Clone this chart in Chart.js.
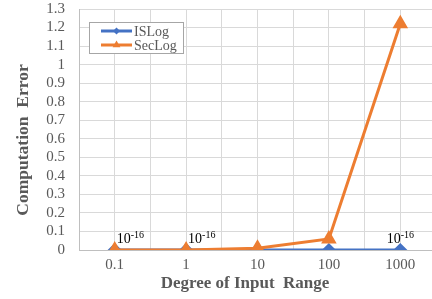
<!DOCTYPE html>
<html><head><meta charset="utf-8">
<script src="https://cdn.jsdelivr.net/npm/chart.js@4"></script>
<style>
html,body{margin:0;padding:0;background:#fff;overflow:hidden;width:432px;height:299px}
#wrap{position:relative;width:445px;height:313px;top:-14px}
</style></head>
<body><div id="wrap"><canvas id="c"></canvas></div>
<script>
const categories = ['0.1', '1', '10', '100', '1000'];
const isLog = [0, 0, 0, 0, 0];
const secLog = [0, 0, 0.01, 0.06, 1.22];
const yTicks = [0, 0.1, 0.2, 0.3, 0.4, 0.5, 0.6, 0.7, 0.8, 0.9, 1, 1.1, 1.2, 1.3];
const labelIdx = [0, 1, 4];
const labelText = ['10', '-16'];
const xTitle = 'Degree of Input  Range';
const yTitle = 'Computation  Error';

const serif = "'Liberation Serif','Times New Roman',serif";
const grey = '#595959';

const annot = {
  id: 'annot',
  afterDatasetsDraw(chart) {
    const ctx = chart.ctx;
    const meta = chart.getDatasetMeta(0);
    ctx.save();
    ctx.fillStyle = '#000';
    ctx.textBaseline = 'alphabetic';
    labelIdx.forEach(i => {
      const p = meta.data[i];
      ctx.font = '14px ' + serif;
      const w1 = ctx.measureText(labelText[0]).width;
      ctx.font = '10px ' + serif;
      const w2 = ctx.measureText(labelText[1]).width;
      let x = p.x + 2;
      if (i === categories.length - 1) x = p.x - (w1 + w2) / 2;
      const y = p.y - 7;
      ctx.font = '14px ' + serif;
      ctx.fillText(labelText[0], x, y);
      ctx.font = '10px ' + serif;
      ctx.fillText(labelText[1], x + w1, y - 5);
    });
    ctx.restore();
  }
};

const titles = {
  id: 'titles',
  afterDraw(chart) {
    const ctx = chart.ctx;
    ctx.save();
    ctx.fillStyle = grey;
    ctx.textAlign = 'center';
    ctx.textBaseline = 'middle';
    ctx.font = 'bold 17px ' + serif;
    ctx.fillText(xTitle, 245, 284 + 14);
    ctx.translate(23.5, 140 + 14);
    ctx.rotate(-Math.PI / 2);
    ctx.font = 'bold 17.5px ' + serif;
    ctx.fillText(yTitle, 0, 0);
    ctx.restore();
  }
};

new Chart(document.getElementById('c'), {
  type: 'line',
  data: {
    datasets: [
      { label: 'ISLog', data: isLog.map((v, i) => ({x: i, y: v})), order: 1,
        borderColor: '#4472C4', backgroundColor: '#4472C4', borderWidth: 3,
        pointStyle: 'rectRot', pointRadius: 5, pointHoverRadius: 5, tension: 0 },
      { label: 'SecLog', data: secLog.map((v, i) => ({x: i, y: v})), order: 0,
        borderColor: '#ED7D31', backgroundColor: '#ED7D31', borderWidth: 3,
        pointStyle: 'triangle', pointRadius: 6, pointHoverRadius: 6, tension: 0 }
    ]
  },
  options: {
    responsive: true, maintainAspectRatio: false, animation: false,
    layout: { padding: { top: 0, right: 8, left: 0, bottom: 0 } },
    plugins: {
      tooltip: { enabled: false },
      legend: { display: false }
    },
    scales: {
      x: {
        type: 'linear', min: -0.5, max: 4.5,
        afterBuildTicks(s) { s.ticks = []; for (let v = -0.5; v <= 4.5001; v += 0.5) s.ticks.push({value: v}); },
        afterFit(s) { s.height = 49; },
        ticks: {
          autoSkip: false, maxRotation: 0, padding: 6,
          color: grey, font: { family: serif, size: 15 },
          callback(v) { return Number.isInteger(v) ? categories[v] : ''; }
        },
        grid: { color: '#d9d9d9', lineWidth: 1, drawTicks: false },
        border: { color: '#bfbfbf', width: 1 },
        title: { display: false }
      },
      y: {
        min: 0, max: 1.3,
        afterBuildTicks(s) { s.ticks = yTicks.map(v => ({value: v})); },
        afterFit(s) { s.width = 79; },
        ticks: { color: grey, font: { family: serif, size: 15 }, padding: 14, autoSkip: false,
          callback(v) { return String(Math.round(v * 10) / 10); } },
        grid: { color: '#d9d9d9', lineWidth: 1, drawTicks: false },
        border: { color: '#bfbfbf', width: 1 },
        title: { display: false }
      }
    }
  },
  plugins: [annot, titles, {
    id: 'legendBox',
    afterDraw(chart) {
      const ctx = chart.ctx;
      const ds = chart.data.datasets;
      ctx.save();
      const bx = 89, by = 22 + 14, bw = 94, bh = 31;
      ctx.fillStyle = '#fff';
      ctx.fillRect(bx, by, bw, bh);
      ctx.strokeStyle = '#a6a6a6';
      ctx.lineWidth = 1;
      ctx.strokeRect(bx + 0.5, by + 0.5, bw, bh);
      ds.forEach((d, i) => {
        const y = by + 9 + i * 14;
        ctx.strokeStyle = d.borderColor; ctx.lineWidth = 3;
        ctx.beginPath(); ctx.moveTo(101, y); ctx.lineTo(132, y); ctx.stroke();
        ctx.fillStyle = d.borderColor;
        Chart.helpers.drawPoint(ctx, { pointStyle: d.pointStyle, radius: i === 0 ? 3.5 : 4.5, borderWidth: 0 }, 116.5, y);
        ctx.fillStyle = grey;
        ctx.font = '14px ' + serif;
        ctx.textBaseline = 'middle';
        ctx.fillText(d.label, 134, y + 1);
      });
      ctx.restore();
    }
  }]
});
</script>
</body></html>
